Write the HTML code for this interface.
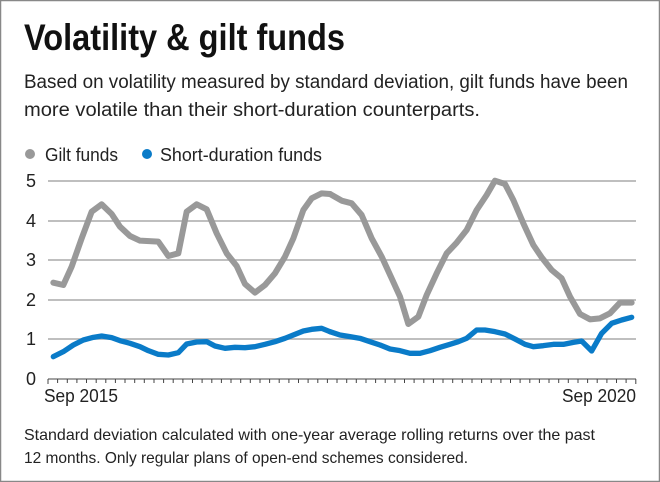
<!DOCTYPE html>
<html><head><style>html,body{margin:0;padding:0;background:#fff}svg{display:block}</style></head>
<body>
<svg width="660" height="482" viewBox="0 0 660 482" xmlns="http://www.w3.org/2000/svg" font-family="'Liberation Sans Narrow','Liberation Sans',sans-serif">
<rect x="0.5" y="0.5" width="659" height="481" fill="#fff" stroke="#888" stroke-width="1.5"/>
<text x="24" y="50" font-size="37" font-weight="bold" fill="#111" textLength="321" lengthAdjust="spacingAndGlyphs">Volatility &amp; gilt funds</text>
<text x="24" y="88" font-size="19" fill="#222" textLength="604" lengthAdjust="spacingAndGlyphs">Based on volatility measured by standard deviation, gilt funds have been</text>
<text x="24" y="116" font-size="19" fill="#222" textLength="456" lengthAdjust="spacingAndGlyphs">more volatile than their short-duration counterparts.</text>
<circle cx="30" cy="154" r="5" fill="#999"/>
<text x="45" y="161" font-size="18" fill="#222" textLength="73" lengthAdjust="spacingAndGlyphs">Gilt funds</text>
<circle cx="147" cy="154" r="5" fill="#0a7bc8"/>
<text x="160" y="161" font-size="18" fill="#222" textLength="162" lengthAdjust="spacingAndGlyphs">Short-duration funds</text>
<g stroke="#aaa" stroke-width="1.5">
<line x1="48" y1="181" x2="636" y2="181"/><line x1="48" y1="221" x2="636" y2="221"/>
<line x1="48" y1="260" x2="636" y2="260"/><line x1="48" y1="300" x2="636" y2="300"/>
<line x1="48" y1="339" x2="636" y2="339"/>
</g>
<line x1="48" y1="379" x2="636" y2="379" stroke="#444" stroke-width="1"/>
<g stroke="#444" stroke-width="1" id="ticks"></g>
<g font-size="18" fill="#222" text-anchor="end">
<text x="36" y="187">5</text><text x="36" y="227">4</text><text x="36" y="266">3</text>
<text x="36" y="306">2</text><text x="36" y="345">1</text><text x="36" y="385">0</text>
</g>
<text x="44" y="402" font-size="18" fill="#222" textLength="74" lengthAdjust="spacingAndGlyphs">Sep 2015</text>
<text x="562" y="402" font-size="18" fill="#222" textLength="74" lengthAdjust="spacingAndGlyphs">Sep 2020</text>
<path d="M48 379v5 M57.6 379v4 M67.3 379v4 M76.9 379v4 M86.5 379v4 M96.2 379v4 M105.8 379v4 M115.4 379v4 M125 379v4 M134.7 379v4 M144.3 379v4 M154 379v4 M163.6 379v4 M173.2 379v4 M182.9 379v4 M192.5 379v4 M202.1 379v4 M211.8 379v4 M221.4 379v4 M231 379v4 M240.7 379v4 M250.3 379v4 M260 379v4 M269.6 379v4 M279.2 379v4 M288.9 379v4 M298.5 379v4 M308.1 379v4 M317.8 379v4 M327.4 379v4 M337 379v4 M346.7 379v4 M356.3 379v4 M366 379v4 M375.6 379v4 M385.2 379v4 M394.9 379v4 M404.5 379v4 M414.1 379v4 M423.8 379v4 M433.4 379v4 M443 379v4 M452.7 379v4 M462.3 379v4 M472 379v4 M481.6 379v4 M491.2 379v4 M500.9 379v4 M510.5 379v4 M520.1 379v4 M529.8 379v4 M539.4 379v4 M549 379v4 M558.7 379v4 M568.3 379v4 M578 379v4 M587.6 379v4 M597.2 379v4 M606.9 379v4 M616.5 379v4 M626.1 379v4 M635.8 379v5" stroke="#444" stroke-width="1" fill="none"/>
<g fill="none" stroke-linejoin="round" stroke-linecap="round">
<g transform="translate(0,160) scale(0.33333)">
<polyline stroke="#999" stroke-width="18" points="160,368 190,375 215,320 245,235 275,155 305,133 335,162 360,200 390,228 420,242 475,245 505,288 535,280 560,155 590,133 620,148 650,220 680,280 710,318 735,372 765,398 795,375 825,340 855,290 880,235 910,150 935,115 965,100 990,102"/>
<polyline stroke="#0a7bc8" stroke-width="16" points="160,590 190,575 220,555 250,540 280,532 305,528 335,533 360,542 390,550 420,560 445,572 475,583 505,585 535,578 560,552 590,546 620,545 645,558 675,565 705,562 735,563 765,560 795,553 825,545 855,535 880,525 910,513 935,508 965,505 990,515"/>
</g>
<g transform="translate(330,160) scale(0.33333)">
<polyline stroke="#999" stroke-width="18" points="0,102 35,122 65,130 95,165 125,235 155,290 185,355 210,410 235,492 265,470 290,405 320,340 350,280 380,248 410,210 440,150 470,105 495,62 525,72 550,120 580,190 610,255 635,292 665,330 695,355 720,410 750,462 780,478 810,475 840,460 870,428 905,428"/>
<polyline stroke="#0a7bc8" stroke-width="16" points="0,515 30,525 60,530 90,535 120,545 150,555 180,567 210,572 240,580 270,580 300,572 330,562 360,553 385,545 410,535 440,510 465,510 495,515 525,522 555,537 585,553 610,560 640,557 670,553 700,553 730,547 755,543 785,573 815,520 845,490 875,480 905,472"/>
</g>
</g>
<text x="24" y="440" font-size="16" fill="#222" textLength="571" lengthAdjust="spacingAndGlyphs">Standard deviation calculated with one-year average rolling returns over the past</text>
<text x="24" y="463" font-size="16" fill="#222" textLength="444" lengthAdjust="spacingAndGlyphs">12 months. Only regular plans of open-end schemes considered.</text>
</svg>
</body></html>
